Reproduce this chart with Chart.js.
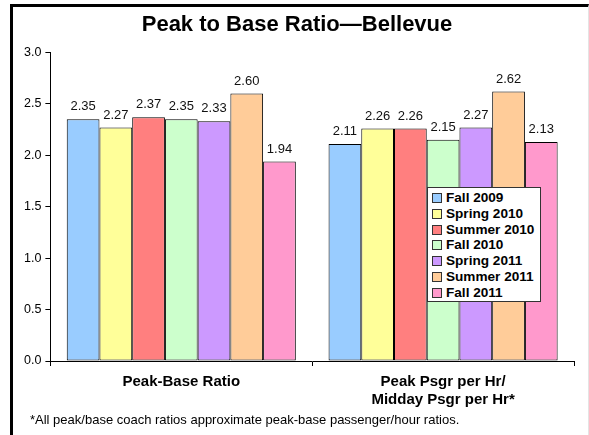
<!DOCTYPE html>
<html>
<head>
<meta charset="utf-8">
<script src="https://cdn.jsdelivr.net/npm/chart.js@4/dist/chart.umd.min.js"></script>
<style>
  body { margin: 0; background: #fff; font-family: "Liberation Sans", Arial, sans-serif; }
  #wrap { position: relative; width: 589px; height: 435px; overflow: hidden; }
  #frame { position: absolute; left: 10px; top: 4px; width: 575px; height: 440px;
           border-top: 3px solid #000; border-left: 3px solid #000; border-right: 1px solid #e4e4e4; }
  #chart { position: absolute; left: 0; top: 0; }
  #legend { position: absolute; left: 427px; top: 187px; width: 112px; height: 111px;
            border: 1px solid #333; background: #fff; padding-top: 2px; box-sizing: content-box; }
  .item { height: 15.8px; line-height: 15.8px; font-weight: bold; font-size: 13.6px; color: #000;
          white-space: nowrap; position: relative; padding-left: 18px; }
  .sw { position: absolute; left: 4px; top: 3px; width: 8px; height: 8px; border: 1px solid #333; }
  #note { position: absolute; left: 30px; top: 412px; font-size: 13px; color: #000; }
</style>
</head>
<body>
<div id="wrap">
  <div id="frame"></div>
  <canvas id="chart" width="589" height="435"></canvas>
  <div id="legend"></div>
  <div id="note">*All peak/base coach ratios approximate peak-base passenger/hour ratios.</div>
</div>
<script>
let categories = ['Peak-Base Ratio', ['Peak Psgr per Hr/', 'Midday Psgr per Hr*']];
let seasons = ['Fall 2009', 'Spring 2010', 'Summer 2010', 'Fall 2010', 'Spring 2011', 'Summer 2011', 'Fall 2011'];
let colors = ['#99ccff', '#ffff99', '#ff7f7f', '#ccffcc', '#cc99ff', '#ffcc99', '#ff99cc'];

let fall2009 = [2.35, 2.11];
let spring2010 = [2.27, 2.26];
let summer2010 = [2.37, 2.26];
let fall2010 = [2.35, 2.15];
let spring2011 = [2.33, 2.27];
let summer2011 = [2.60, 2.62];
let fall2011 = [1.94, 2.13];

let series = [fall2009, spring2010, summer2010, fall2010, spring2011, summer2011, fall2011];

let datasets = series.map((vals, i) => ({
  label: seasons[i],
  data: vals,
  backgroundColor: colors[i],
  borderColor: '#000',
  borderWidth: 1,
  borderSkipped: false,
  barPercentage: 1.0,
  categoryPercentage: 0.875
}));

// value labels above each bar
let barLabels = {
  id: 'barLabels',
  afterDatasetsDraw(chart) {
    let ctx = chart.ctx;
    ctx.save();
    ctx.font = '13px "Liberation Sans", Arial, sans-serif';
    ctx.fillStyle = '#111';
    ctx.textAlign = 'center';
    ctx.textBaseline = 'bottom';
    chart.data.datasets.forEach((ds, i) => {
      chart.getDatasetMeta(i).data.forEach((bar, j) => {
        ctx.fillText(ds.data[j].toFixed(2), bar.x, bar.y - 6);
      });
    });
    ctx.restore();
  }
};

Chart.defaults.font.family = '"Liberation Sans", Arial, sans-serif';
Chart.defaults.color = '#000';

new Chart(document.getElementById('chart'), {
  type: 'bar',
  data: { labels: categories, datasets: datasets },
  options: {
    responsive: false,
    animation: false,
    layout: { padding: { left: 20, right: 15, top: 0, bottom: 19 } },
    plugins: {
      legend: { display: false },
      tooltip: { enabled: false },
      title: {
        display: true,
        text: 'Peak to Base Ratio\u2014Bellevue',
        font: { size: 22, weight: 'bold', lineHeight: 1.2 },
        color: '#000',
        padding: { top: 12, bottom: 14 }
      }
    },
    scales: {
      x: {
        grid: { drawOnChartArea: false, drawTicks: true, tickLength: 5, color: '#000', offset: true },
        border: { color: '#000' },
        ticks: { font: { size: 15, weight: 'bold', lineHeight: 1.2 }, padding: 7, color: '#000', maxRotation: 0 }
      },
      y: {
        min: 0,
        max: 3,
        grid: { drawOnChartArea: false, drawTicks: true, tickLength: 5, color: '#000' },
        border: { color: '#000' },
        ticks: { stepSize: 0.5, padding: 4, font: { size: 12.5 }, color: '#000',
                 callback: v => Number(v).toFixed(1) }
      }
    }
  },
  plugins: [barLabels]
});

let legendBox = document.getElementById('legend');
seasons.forEach((s, i) => {
  let row = document.createElement('div');
  row.className = 'item';
  row.innerHTML = `<span class="sw" style="background:${colors[i]}"></span>${s}`;
  legendBox.appendChild(row);
});
</script>
</body>
</html>
